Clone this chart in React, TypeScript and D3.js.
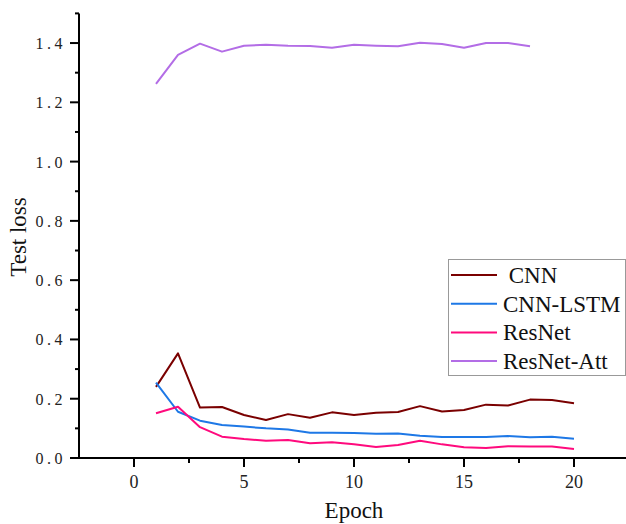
import { useEffect, useRef } from "react";
import * as d3 from "d3";

const epochs = d3.range(1, 21);
const cnn = [0.24, 0.353, 0.17, 0.172, 0.145, 0.128, 0.148, 0.136, 0.154, 0.145, 0.153, 0.155, 0.175, 0.157, 0.162, 0.18, 0.177, 0.197, 0.196, 0.185];
const cnnLstm = [0.254, 0.156, 0.126, 0.111, 0.106, 0.1, 0.096, 0.085, 0.085, 0.084, 0.082, 0.083, 0.075, 0.071, 0.071, 0.071, 0.074, 0.07, 0.072, 0.065];
const resnet = [0.151, 0.173, 0.104, 0.072, 0.064, 0.058, 0.061, 0.05, 0.053, 0.046, 0.037, 0.044, 0.058, 0.046, 0.036, 0.034, 0.04, 0.039, 0.039, 0.03];
const resnetAtt = [1.262, 1.36, 1.398, 1.371, 1.391, 1.394, 1.391, 1.39, 1.384, 1.394, 1.391, 1.389, 1.401, 1.397, 1.384, 1.4, 1.4, 1.389];

const seriesNames = [" CNN", "CNN-LSTM", "ResNet", "ResNet-Att"];
const seriesColors = ["#7a0000", "#1e78e6", "#ff0a7d", "#b36de6"];
const seriesValues = [cnn, cnnLstm, resnet, resnetAtt];

const xMajor = [0, 5, 10, 15, 20];
const xMinor = [2.5, 7.5, 12.5, 17.5];
const yMajor = [0, 0.2, 0.4, 0.6, 0.8, 1.0, 1.2, 1.4];
const yMinor = [0.1, 0.3, 0.5, 0.7, 0.9, 1.1, 1.3, 1.5];

export default function App() {
  const svgRef = useRef<SVGSVGElement>(null);

  useEffect(() => {
    if (!svgRef.current) return;
    const svg = d3.select(svgRef.current);
    svg.selectAll("*").remove();

    const x = d3.scaleLinear().domain([-2.5, 22.5]).range([79, 629]);
    const y = d3.scaleLinear().domain([0, 1.5]).range([458, 13.4]);

    const font = "'Liberation Serif', 'Times New Roman', serif";

    // lines
    const line = d3
      .line<number>()
      .x((_, i) => x(epochs[i]))
      .y((d) => y(d));

    seriesValues.forEach((vals, k) => {
      svg
        .append("path")
        .attr("d", line(vals))
        .attr("fill", "none")
        .attr("stroke", seriesColors[k])
        .attr("stroke-width", 2)
        .attr("stroke-linejoin", "round");
    });

    // axes
    const axisColor = "#000";
    svg
      .append("line")
      .attr("x1", x(-2.5))
      .attr("x2", x(22.5))
      .attr("y1", y(0))
      .attr("y2", y(0))
      .attr("stroke", axisColor)
      .attr("stroke-width", 2);
    svg
      .append("line")
      .attr("x1", x(-2.5))
      .attr("x2", x(-2.5))
      .attr("y1", y(0) + 1)
      .attr("y2", y(1.5))
      .attr("stroke", axisColor)
      .attr("stroke-width", 2);

    xMajor.forEach((t) => {
      svg
        .append("line")
        .attr("x1", x(t))
        .attr("x2", x(t))
        .attr("y1", y(0))
        .attr("y2", y(0) + 9)
        .attr("stroke", axisColor)
        .attr("stroke-width", 2);
      svg
        .append("text")
        .attr("x", x(t))
        .attr("y", 488)
        .attr("text-anchor", "middle")
        .attr("font-family", font)
        .attr("font-size", 18)
        .attr("fill", "#222")
        .text(String(t));
    });
    xMinor.forEach((t) => {
      svg
        .append("line")
        .attr("x1", x(t))
        .attr("x2", x(t))
        .attr("y1", y(0))
        .attr("y2", y(0) + 5)
        .attr("stroke", axisColor)
        .attr("stroke-width", 2);
    });

    yMajor.forEach((t) => {
      svg
        .append("line")
        .attr("x1", x(-2.5))
        .attr("x2", x(-2.5) - 9)
        .attr("y1", y(t))
        .attr("y2", y(t))
        .attr("stroke", axisColor)
        .attr("stroke-width", 2);
      svg
        .append("text")
        .attr("x", 66)
        .attr("y", y(t) + 6)
        .attr("text-anchor", "end")
        .attr("font-family", font)
        .attr("font-size", 16)
        .attr("letter-spacing", 3.5)
        .attr("fill", "#222")
        .text(d3.format(".1f")(t));
    });
    yMinor.forEach((t) => {
      svg
        .append("line")
        .attr("x1", x(-2.5))
        .attr("x2", x(-2.5) - 4)
        .attr("y1", y(t))
        .attr("y2", y(t))
        .attr("stroke", axisColor)
        .attr("stroke-width", 2);
    });

    // axis titles
    svg
      .append("text")
      .attr("x", x(10))
      .attr("y", 518)
      .attr("text-anchor", "middle")
      .attr("font-family", font)
      .attr("font-size", 23)
      .attr("fill", "#111")
      .text("Epoch");
    svg
      .append("text")
      .attr("transform", "translate(26,237) rotate(-90)")
      .attr("text-anchor", "middle")
      .attr("font-family", font)
      .attr("font-size", 23)
      .attr("fill", "#111")
      .text("Test loss");

    // legend
    const lg = svg.append("g");
    lg.append("rect")
      .attr("x", 448.5)
      .attr("y", 259.5)
      .attr("width", 177)
      .attr("height", 116)
      .attr("fill", "#fff")
      .attr("stroke", "#999")
      .attr("stroke-width", 1);
    seriesNames.forEach((name, k) => {
      const cy = 275 + k * 28.7;
      lg.append("line")
        .attr("x1", 451)
        .attr("x2", 497)
        .attr("y1", cy)
        .attr("y2", cy)
        .attr("stroke", seriesColors[k])
        .attr("stroke-width", 2);
      lg.append("text")
        .attr("x", 503)
        .attr("y", cy + 8)
        .attr("font-family", font)
        .attr("font-size", 23)
        .attr("fill", "#111")
        .attr("xml:space", "preserve")
        .style("white-space", "pre")
        .text(name);
    });
  }, []);

  return (
    <svg
      ref={svgRef}
      width={626}
      height={524}
      style={{ position: "absolute", left: 0, top: 0, background: "#fff" }}
    />
  );
}
